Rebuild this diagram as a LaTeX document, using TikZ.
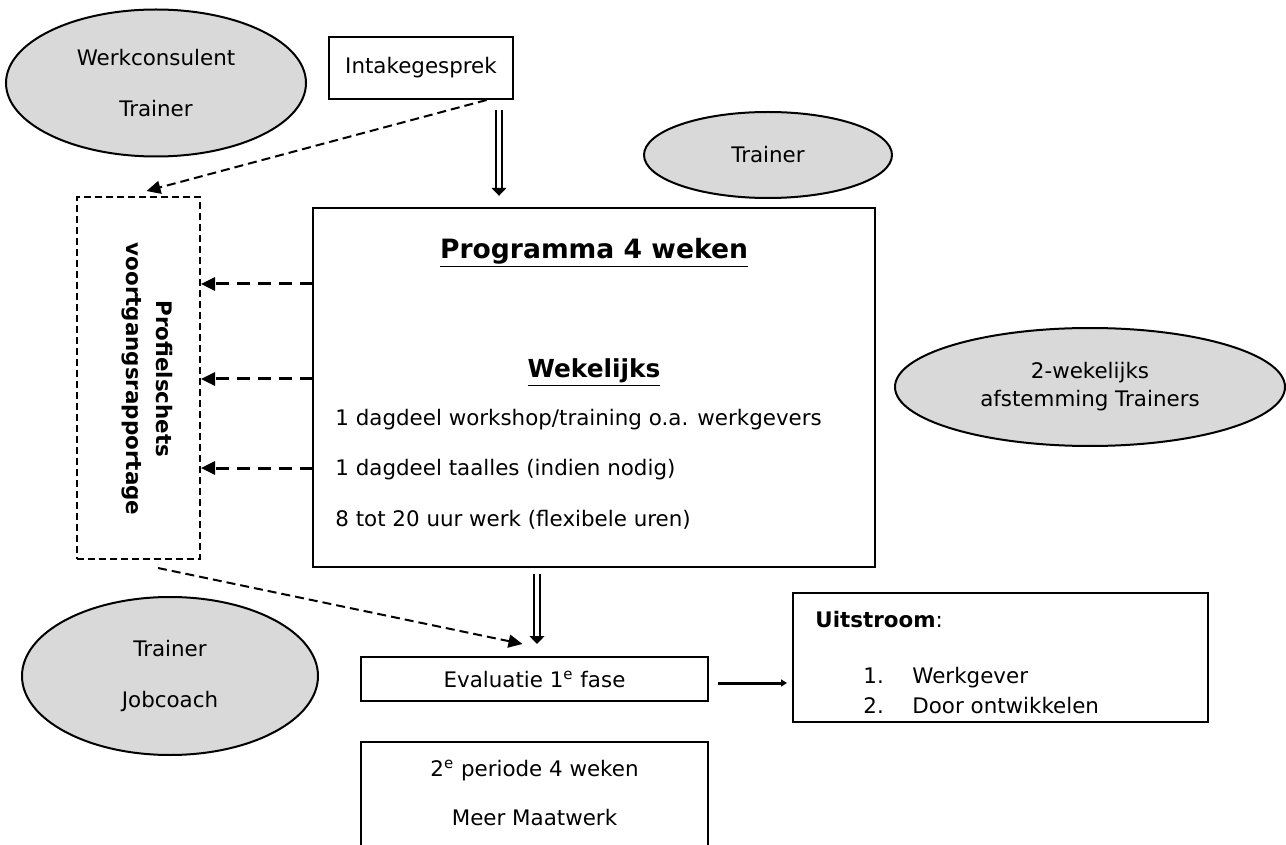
\documentclass[tikz,border=0pt]{standalone}
\usepackage{fontspec}
\setmainfont{DejaVu Sans}
\usetikzlibrary{shapes.geometric,arrows.meta}
\definecolor{xgray}{RGB}{217,217,217}

\begin{document}
\begin{tikzpicture}[x=0.5pt,y=-0.5pt,>={Triangle[length=7pt,width=6.5pt]},
  every node/.style={font=\fontsize{10.7}{12.8}\selectfont}]
\tikzset{role/.style={ellipse,fill=xgray,draw,line width=1pt,inner sep=0pt,align=center,font=\fontsize{10.7}{25.5}\selectfont}}
\tikzset{blok/.style={rectangle,draw,line width=1pt,inner sep=0pt,align=center}}
\tikzset{tekst/.style={inner sep=0pt}}
\tikzset{rapport/.style={rectangle,draw,line width=1pt,dash pattern=on 3.5pt off 2pt,inner sep=0pt}}
\tikzset{terug/.style={->,line width=1.5pt,dash pattern=on 6.5pt off 4pt}}
\tikzset{naar/.style={->,line width=1pt,dash pattern=on 4.5pt off 2.5pt}}
\tikzset{dubbel/.style={double,double distance=2.2pt,line width=0.7pt,-{Triangle[length=4pt,width=7.5pt]}}}
\useasboundingbox (0,0) rectangle (1286,845);
\clip (0,0) rectangle (1286,845);
% rollen
\node[role,minimum width=150pt,minimum height=73.5pt] at (156,83) (werk) {Werkconsulent\\Trainer};
\node[role,minimum width=124pt,minimum height=43pt] at (768,155) (trainer) {Trainer};
\node[role,minimum width=195pt,minimum height=59pt,font=\fontsize{10.7}{14}\selectfont] at (1090,387) (afstem) {2-wekelijks\\afstemming Trainers};
\node[role,minimum width=148pt,minimum height=79pt] at (170,676) (jobc) {Trainer\\Jobcoach};
% intake
\node[blok,minimum width=92pt,minimum height=31pt] at (421,68) (intake) {Intakegesprek};
% programma
\node[blok,line width=1.2pt,minimum width=281pt,minimum height=179.5pt] at (594,387.5) (prog) {};
\node[tekst,font=\bfseries\fontsize{13.3}{16}\selectfont] at (594,253) (progkop) {\underline{Programma 4 weken}};
\node[tekst,font=\bfseries\fontsize{12.4}{15}\selectfont] at (594,373) (wekkop) {\underline{Wekelijks}};
\node[tekst,anchor=west] at (335,420) (regel1) {1 dagdeel workshop/training o.a. werkgevers};
\node[tekst,anchor=west] at (335,470) (regel2) {1 dagdeel taalles (indien nodig)};
\node[tekst,anchor=west] at (335,520) (regel3) {8 tot 20 uur werk (flexibele uren)};
% rapportage
\node[rapport,minimum width=61.5pt,minimum height=181pt] at (138.5,378) (profiel) {};
\node[tekst,rotate=-90,align=center,font=\bfseries\fontsize{10.7}{15}\selectfont] at (147,379) (profieltxt) {Profielschets\\voortgangsrapportage};
% evaluatie en verder
\node[blok,minimum width=173.5pt,minimum height=22pt] at (534.5,679) (eval) {Evaluatie 1\textsuperscript{e} fase};
\node[blok,minimum width=173.5pt,minimum height=69pt] at (534.5,811) (periode) {};
\node[tekst,align=center,font=\fontsize{10.7}{24.5}\selectfont] at (534.5,792.5) (periodetxt) {2\textsuperscript{e} periode 4 weken\\Meer Maatwerk};
\node[blok,minimum width=207.5pt,minimum height=64.5pt] at (1000.5,657.5) (uit) {};
\node[tekst,anchor=west] at (815,620) (uitkop) {\textbf{Uitstroom}:};
\node[tekst,anchor=west,font=\fontsize{10.7}{15}\selectfont] at (863,692) (uitlijst) {\begin{tabular}{@{}p{24.5pt}@{}l@{}}1.&Werkgever\\2.&Door ontwikkelen\end{tabular}};
% pijlen
\draw[naar] (intake.-26) -- ([xshift=4pt,yshift=2.5pt]profiel.north);
\draw[dubbel] ([xshift=39pt,yshift=-5pt]intake.south) -- ([xshift=-47.5pt,yshift=5.5pt]prog.north);
\foreach \yy/\nm in {284/a,379/b,468/c} {
  \coordinate (rep\nm) at (313,\yy);
  \draw[terug] (rep\nm) -- (rep\nm -| profiel.east);
}
\draw[naar] ([xshift=9.75pt,yshift=-4pt]profiel.south) -- ([xshift=-6pt,yshift=6pt]eval.north);
\draw[dubbel] ([xshift=-28.5pt,yshift=-3pt]prog.south) -- ([xshift=1.25pt,yshift=6pt]eval.north);
\coordinate (uitvan) at ([xshift=4.5pt,yshift=-2pt]eval.east);
\draw[line width=1.5pt,-{Triangle[length=3pt,width=3.5pt]},shorten >=2.5pt] (uitvan) -- (uitvan -| uit.west);
\end{tikzpicture}
\end{document}
